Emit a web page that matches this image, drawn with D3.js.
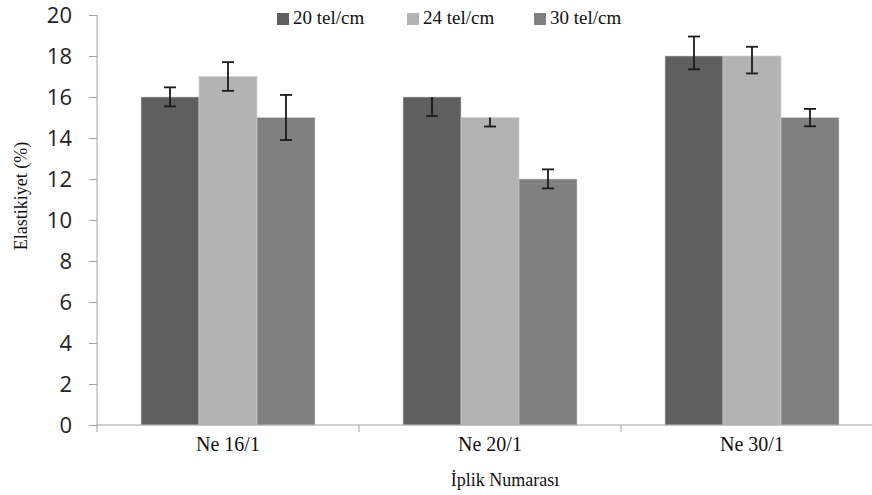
<!DOCTYPE html>
<html><head><meta charset="utf-8">
<script src="https://cdn.jsdelivr.net/npm/d3@7"></script>
<style>body{margin:0;background:#fff}svg{display:block}
.serif{font-family:"Liberation Serif","Times New Roman",Times,"DejaVu Serif",serif}
</style>
</head><body><svg id="c" width="872" height="495"></svg>
<script>
const categories = ["Ne 16/1", "Ne 20/1", "Ne 30/1"];
const seriesNames = ["20 tel/cm", "24 tel/cm", "30 tel/cm"];
const values20 = [16, 16, 18];
const values24 = [17, 15, 18];
const values30 = [15, 12, 15];
const errPlus20 = [0.47, 0, 0.95];
const errMinus20 = [0.46, 0.93, 0.65];
const errPlus24 = [0.7, 0, 0.45];
const errMinus24 = [0.7, 0.44, 0.85];
const errPlus30 = [1.1, 0.47, 0.42];
const errMinus30 = [1.1, 0.46, 0.43];
const yTicks = [0, 2, 4, 6, 8, 10, 12, 14, 16, 18, 20];
const colors = ["#5f5f5f", "#b3b3b3", "#808080"];

const series = [
  {name: seriesNames[0], v: values20, ep: errPlus20, em: errMinus20},
  {name: seriesNames[1], v: values24, ep: errPlus24, em: errMinus24},
  {name: seriesNames[2], v: values30, ep: errPlus30, em: errMinus30}
];

const svg = d3.select("#c");
const mLeft = 97, mRight = 883, mTop = 15, mBottom = 425;
const y = d3.scaleLinear().domain([0, 20]).range([mBottom, mTop]);
const x0 = d3.scaleBand().domain(categories).range([mLeft, mRight]).paddingInner(0.336).paddingOuter(0.168);
const x1 = d3.scaleBand().domain(seriesNames).range([0, x0.bandwidth()]);

// bars
const g = svg.append("g");
categories.forEach((c, ci) => {
  series.forEach((s, si) => {
    g.append("rect")
      .attr("x", x0(c) + x1(s.name))
      .attr("y", y(s.v[ci]))
      .attr("width", x1.bandwidth())
      .attr("height", y(0) - y(s.v[ci]))
      .attr("fill", colors[si])
      .attr("stroke", "#d0d0d0").attr("stroke-width", 0.6);
  });
});

// axes
const axisColor = "#a0a0a0";
const yAxis = svg.append("g").attr("transform", `translate(${mLeft},0)`)
  .call(d3.axisLeft(y).tickValues(yTicks).tickSize(8).tickPadding(17));
yAxis.select(".domain").attr("d", `M0,${mTop}V${mBottom + 7}`).attr("stroke", axisColor);
yAxis.selectAll(".tick line").attr("stroke", axisColor);
yAxis.selectAll("text").attr("font-family", "'Open Sans', 'Liberation Sans', sans-serif").attr("font-size", 22).attr("fill", "#222");

const xAxisG = svg.append("g").attr("transform", `translate(0,${mBottom})`);
xAxisG.append("line").attr("x1", mLeft).attr("x2", 872).attr("y1", 0).attr("y2", 0).attr("stroke", axisColor);
const boundaries = categories.map(c => x0(c) - x0.step() * x0.paddingInner() / 2).slice(1);
boundaries.forEach(b => {
  xAxisG.append("line").attr("x1", b).attr("x2", b).attr("y1", 0).attr("y2", 7).attr("stroke", axisColor);
});
categories.forEach(c => {
  xAxisG.append("text").attr("class", "serif").attr("x", x0(c) + x0.bandwidth() / 2).attr("y", 26)
    .attr("text-anchor", "middle").attr("font-size", 20).attr("fill", "#111").text(c);
});

// error bars
categories.forEach((c, ci) => {
  series.forEach((s, si) => {
    const cx = x0(c) + x1(s.name) + x1.bandwidth() / 2;
    const v = s.v[ci];
    const hi = v + s.ep[ci], lo = v - s.em[ci];
    const eg = svg.append("g").attr("stroke", "#1a1a1a").attr("stroke-width", 1.8);
    eg.append("line").attr("x1", cx).attr("x2", cx).attr("y1", y(hi)).attr("y2", y(lo));
    if (s.ep[ci] > 0) eg.append("line").attr("x1", cx - 6).attr("x2", cx + 6).attr("y1", y(hi)).attr("y2", y(hi));
    eg.append("line").attr("x1", cx - 6).attr("x2", cx + 6).attr("y1", y(lo)).attr("y2", y(lo));
  });
});

// axis titles
svg.append("text").attr("class", "serif").attr("x", 505).attr("y", 486).attr("text-anchor", "middle")
  .attr("font-size", 18).attr("fill", "#111").text("İplik Numarası");
svg.append("text").attr("class", "serif").attr("transform", `translate(27,196) rotate(-90)`).attr("text-anchor", "middle")
  .attr("font-size", 18).attr("fill", "#111").text("Elastikiyet (%)");

// legend
const legX = [277, 407, 534];
series.forEach((s, i) => {
  svg.append("rect").attr("x", legX[i]).attr("y", 13).attr("width", 12).attr("height", 12).attr("fill", colors[i]);
  svg.append("text").attr("class", "serif").attr("x", legX[i] + 16).attr("y", 24)
    .attr("font-size", 19).attr("fill", "#111").text(s.name);
});
</script></body></html>
